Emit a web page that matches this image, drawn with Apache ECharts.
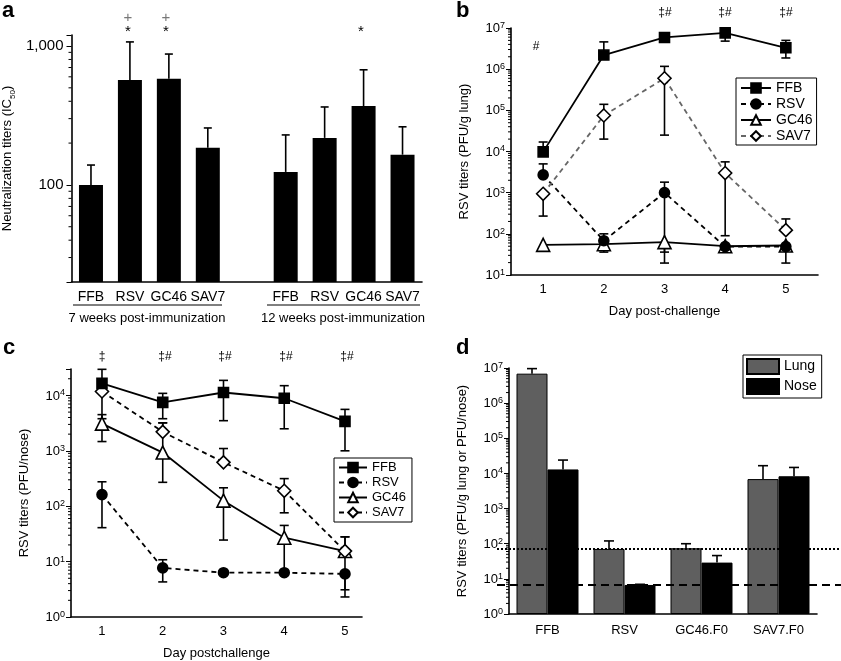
<!DOCTYPE html>
<html>
<head>
<meta charset="utf-8">
<script src="https://cdn.jsdelivr.net/npm/echarts@6/dist/echarts.min.js"></script>
<style>
html, body { margin: 0; padding: 0; background: #fff; }
#main { width: 841px; height: 661px; }
</style>
</head>
<body>
<div id="main"></div>
<script>
// ---- panel a: neutralization titers ----
const aVaccines = ['FFB', 'RSV', 'GC46', 'SAV7'];
const aGroups = ['7 weeks post-immunization', '12 weeks post-immunization'];
const a7wk = [100, 569, 580, 185];
const a7wkUpper = [139, 1070, 875, 257];
const a12wk = [124, 218, 370, 165];
const a12wkUpper = [229, 364, 674, 262];

// ---- panel b: lung titers ----
const days = [1, 2, 3, 4, 5];
const bFFB = [9800, 2200000, 5900000, 7600000, 3300000];
const bFFBLo = [9800, 2200000, 5600000, 4800000, 1870000];
const bFFBHi = [17000, 4600000, 6300000, 9800000, 5000000];
const bRSV = [2700, 68, 1000, 49, 49];
const bRSVLo = [2700, 36, 36, 49, 49];
const bRSVHi = [5000, 100, 1800, 49, 49];
const bGC46 = [54, 56, 63, 50, 52];
const bGC46Lo = [54, 44, 19.5, 50, 19.5];
const bGC46Hi = [54, 56, 63, 50, 52];
const bSAV7 = [940, 75000, 600000, 3000, 123];
const bSAV7Lo = [270, 20000, 25000, 90, 123];
const bSAV7Hi = [940, 140000, 1170000, 5600, 230];

// ---- panel c: nose titers ----
const cFFB = [16500, 7500, 11300, 8900, 3400];
const cFFBLo = [16500, 3800, 3500, 2500, 1000];
const cFFBHi = [29600, 10900, 18700, 15000, 5600];
const cRSV = [162, 7.7, 6.3, 6.3, 6.0];
const cRSVLo = [41, 4.3, 6.3, 6.3, 2.3];
const cRSVHi = [276, 10.8, 6.3, 6.3, 6.0];
const cGC46 = [3100, 930, 126, 27, 15.5];
const cGC46Lo = [1470, 270, 24.5, 6.5, 15.5];
const cGC46Hi = [4500, 3200, 215, 45, 28];
const cSAV7 = [11800, 2200, 620, 190, 15.5];
const cSAV7Lo = [3800, 2200, 620, 76, 3.1];
const cSAV7Hi = [11800, 3200, 1100, 315, 28];

// ---- panel d: lung vs nose ----
const dCats = ['FFB', 'RSV', 'GC46.F0', 'SAV7.F0'];
const dLung = [6900000, 71, 74, 6900];
const dLungHi = [9600000, 120, 100, 16600];
const dNose = [13000, 6.7, 29, 8300];
const dNoseHi = [24000, 7, 46, 14800];
const dLungLimit = 71;
const dNoseLimit = 6.7;

const FONT = 'Liberation Sans, Arial, sans-serif';

function pow10Label(v) {
  const e = Math.log10(v);
  const r = Math.round(e);
  if (Math.abs(e - r) > 1e-6) return '';
  return '{b|10}{s|' + r + '}';
}
const powRich = {
  b: { fontSize: 13, color: '#000', verticalAlign: 'bottom', lineHeight: 14 },
  s: { fontSize: 9, color: '#000', verticalAlign: 'top', lineHeight: 10, padding: [0, 0, 7, 0] }
};

function errRender(offset, cap) {
  return function (params, api) {
    const x = api.value(0), lo = api.value(1), hi = api.value(2), mid = api.value(3);
    const pl = api.coord([x, lo]);
    const ph = api.coord([x, hi]);
    const cx = pl[0] + offset;
    const st = { stroke: '#000', lineWidth: 1.6 };
    const ch = [{ type: 'line', shape: { x1: cx, y1: pl[1], x2: cx, y2: ph[1] }, style: st }];
    if (hi > mid) ch.push({ type: 'line', shape: { x1: cx - cap / 2, y1: ph[1], x2: cx + cap / 2, y2: ph[1] }, style: st });
    if (lo < mid) ch.push({ type: 'line', shape: { x1: cx - cap / 2, y1: pl[1], x2: cx + cap / 2, y2: pl[1] }, style: st });
    return { type: 'group', children: ch };
  };
}

function errSeries(name, xi, yi, xs, mean, lo, hi, offset, cap) {
  return {
    name: name, type: 'custom', xAxisIndex: xi, yAxisIndex: yi, z: 2, silent: true,
    renderItem: errRender(offset || 0, cap || 9),
    data: xs.map((x, i) => [x, lo[i], hi[i], mean[i]])
  };
}

// log-axis minor ticks (2..9 within each decade), drawn through the axis scale
function minorTicks(xi, yi, x0, lo, hi) {
  const vals = [];
  for (let k = Math.floor(Math.log10(lo)); k <= Math.ceil(Math.log10(hi)); k++) {
    for (let m = 2; m <= 9; m++) {
      const v = m * Math.pow(10, k);
      if (v > lo && v < hi) vals.push([x0, v]);
    }
  }
  return {
    type: 'custom', xAxisIndex: xi, yAxisIndex: yi, silent: true, z: 1,
    renderItem: function (params, api) {
      const y = api.coord([api.value(0), api.value(1)])[1];
      const x = params.coordSys.x;
      return { type: 'line', shape: { x1: x - 3, y1: y, x2: x, y2: y }, style: { stroke: '#000', lineWidth: 1 } };
    },
    data: vals
  };
}

// styles for the four vaccine series
const styles = {
  FFB: { symbol: 'rect', symbolSize: 10, lineType: 'solid', fill: '#000' },
  RSV: { symbol: 'circle', symbolSize: 10, lineType: 'dashed', fill: '#000' },
  GC46: { symbol: 'triangle', symbolSize: 13, lineType: 'solid', fill: '#fff' },
  SAV7: { symbol: 'diamond', symbolSize: 13, lineType: 'dashed', fill: '#fff' }
};

function lineSeries(name, xi, yi, vals, lineColor, z) {
  const s = styles[name];
  return {
    name: name, type: 'line', xAxisIndex: xi, yAxisIndex: yi, z: z,
    symbol: s.symbol, symbolSize: s.symbolSize,
    lineStyle: { color: lineColor, width: 1.8, type: s.lineType === 'dashed' ? [5, 4] : 'solid' },
    itemStyle: { color: s.fill, borderColor: '#000', borderWidth: 1.6 },
    data: days.map((d, i) => [d, vals[i]])
  };
}

const aCats = aVaccines.map(v => v + '|7').concat([' |gap'], aVaccines.map(v => v + '|12'));
const aBars = a7wk.concat(['-'], a12wk);
const aUpper = a7wkUpper.concat(['-'], a12wkUpper);
const aIdx = aCats.map((c, i) => i).filter(i => aBars[i] !== '-');

const axisLineStyle = { lineStyle: { color: '#000', width: 1.6 } };
const logAxisBase = {
  axisLine: { show: true, lineStyle: { color: '#000', width: 1.6 } },
  axisTick: { show: true, length: 5, lineStyle: { color: '#000' } },
  splitLine: { show: false }
};

const chart = echarts.init(document.getElementById('main'));
chart.setOption({
  animation: false,
  textStyle: { fontFamily: FONT, color: '#000' },
  grid: [
    { left: 68, top: 35, width: 354, height: 247 },
    { left: 511, top: 28, width: 307, height: 247 },
    { left: 71, top: 369, width: 291, height: 248 },
    { left: 509, top: 368, width: 308, height: 246 },
    { left: 497, top: 368, width: 344, height: 246 }
  ],
  xAxis: [
    {
      gridIndex: 0, type: 'category', data: aCats,
      axisLine: axisLineStyle, axisTick: { show: false },
      axisLabel: { interval: 0, fontSize: 14, color: '#000', margin: 8, formatter: v => v.split('|')[0].trim() }
    },
    {
      gridIndex: 1, type: 'value', min: 0.47, max: 5.53,
      name: 'Day post-challenge', nameLocation: 'middle', nameGap: 30,
      nameTextStyle: { fontSize: 13, color: '#000' },
      axisLine: axisLineStyle, axisTick: { show: false }, splitLine: { show: false },
      axisLabel: { fontSize: 13, color: '#000', margin: 8, formatter: v => Number.isInteger(v) ? String(v) : '' }
    },
    {
      gridIndex: 2, type: 'value', min: 0.49, max: 5.28,
      name: 'Day postchallenge', nameLocation: 'middle', nameGap: 30,
      nameTextStyle: { fontSize: 13, color: '#000' },
      axisLine: axisLineStyle, axisTick: { show: false }, splitLine: { show: false },
      axisLabel: { fontSize: 13, color: '#000', margin: 8, formatter: v => Number.isInteger(v) ? String(v) : '' }
    },
    {
      gridIndex: 3, type: 'category', data: dCats,
      axisLine: axisLineStyle, axisTick: { show: false },
      axisLabel: { interval: 0, fontSize: 13, color: '#000', margin: 10 }
    },
    { gridIndex: 4, type: 'value', min: 0, max: 1, show: false }
  ],
  yAxis: [
    Object.assign({
      gridIndex: 0, type: 'log', min: 20, max: 1200,
      name: 'Neutralization titers (IC{sub|50})', nameLocation: 'middle', nameGap: 55,
      nameTextStyle: { fontSize: 13, color: '#000', rich: { sub: { fontSize: 8, color: '#000', verticalAlign: 'bottom', padding: [10, 0, 0, 0] } } },
      axisLabel: { fontSize: 15, color: '#000', formatter: v => Math.abs(v - 100) < 1e-6 ? '100' : (Math.abs(v - 1000) < 1e-6 ? '1,000' : '') }
    }, logAxisBase),
    Object.assign({
      gridIndex: 1, type: 'log', min: 10, max: 10000000,
      name: 'RSV titers (PFU/g lung)', nameLocation: 'middle', nameGap: 40,
      nameTextStyle: { fontSize: 13, color: '#000' },
      axisLabel: { formatter: pow10Label, rich: powRich, margin: 6 }
    }, logAxisBase),
    Object.assign({
      gridIndex: 2, type: 'log', min: 1, max: 30000,
      name: 'RSV titers (PFU/nose)', nameLocation: 'middle', nameGap: 40,
      nameTextStyle: { fontSize: 13, color: '#000' },
      axisLabel: { formatter: pow10Label, rich: powRich, margin: 6 }
    }, logAxisBase),
    Object.assign({
      gridIndex: 3, type: 'log', min: 1, max: 10000000,
      name: 'RSV titers (PFU/g lung or PFU/nose)', nameLocation: 'middle', nameGap: 40,
      nameTextStyle: { fontSize: 13, color: '#000' },
      axisLabel: { formatter: pow10Label, rich: powRich, margin: 6 }
    }, logAxisBase),
    { gridIndex: 4, type: 'log', min: 1, max: 10000000, show: false }
  ],
  legend: [
    {
      left: 736, top: 78, orient: 'vertical', data: ['FFB', 'RSV', 'GC46', 'SAV7'],
      borderColor: '#000', borderWidth: 1, padding: [3, 4, 2, 4], itemGap: 2,
      itemWidth: 30, itemHeight: 12, selectedMode: false,
      textStyle: { fontSize: 14, color: '#000' }
    },
    {
      left: 334, top: 458, orient: 'vertical',
      data: ['FFB', 'RSV', 'GC46', { name: 'SAV7', lineStyle: { color: '#000' } }],
      borderColor: '#000', borderWidth: 1, padding: [3, 6, 3, 4], itemGap: 2,
      itemWidth: 28, itemHeight: 12, selectedMode: false,
      textStyle: { fontSize: 13, color: '#000' }
    },
    {
      left: 743, top: 355, orient: 'vertical', data: ['Lung', 'Nose'],
      borderColor: '#000', borderWidth: 1, padding: [3, 5, 3, 3], itemGap: 3,
      itemWidth: 32, itemHeight: 15, icon: 'rect', selectedMode: false,
      textStyle: { fontSize: 14, color: '#000' }
    }
  ],
  series: [
    // panel b
    lineSeries('FFB', 1, 1, bFFB, '#000', 5),
    lineSeries('RSV', 1, 1, bRSV, '#000', 4),
    lineSeries('GC46', 1, 1, bGC46, '#000', 3),
    lineSeries('SAV7', 1, 1, bSAV7, '#666', 4),
    errSeries('bErrFFB', 1, 1, days, bFFB, bFFBLo, bFFBHi),
    errSeries('bErrRSV', 1, 1, days, bRSV, bRSVLo, bRSVHi),
    errSeries('bErrGC46', 1, 1, days, bGC46, bGC46Lo, bGC46Hi),
    errSeries('bErrSAV7', 1, 1, days, bSAV7, bSAV7Lo, bSAV7Hi),
    // panel c
    lineSeries('FFB', 2, 2, cFFB, '#000', 5),
    lineSeries('RSV', 2, 2, cRSV, '#000', 4),
    lineSeries('GC46', 2, 2, cGC46, '#000', 3),
    lineSeries('SAV7', 2, 2, cSAV7, '#000', 4),
    errSeries('cErrFFB', 2, 2, days, cFFB, cFFBLo, cFFBHi),
    errSeries('cErrRSV', 2, 2, days, cRSV, cRSVLo, cRSVHi),
    errSeries('cErrGC46', 2, 2, days, cGC46, cGC46Lo, cGC46Hi),
    errSeries('cErrSAV7', 2, 2, days, cSAV7, cSAV7Lo, cSAV7Hi),
    // panel a
    {
      name: 'titer', type: 'bar', xAxisIndex: 0, yAxisIndex: 0, barWidth: 24,
      itemStyle: { color: '#000' }, data: aBars
    },
    {
      name: 'aErr', type: 'custom', xAxisIndex: 0, yAxisIndex: 0, z: 3, silent: true,
      renderItem: errRender(0, 8),
      data: aIdx.map(i => [i, aBars[i], aUpper[i], aBars[i]])
    },
    // panel d
    {
      name: 'Lung', type: 'bar', xAxisIndex: 3, yAxisIndex: 3, barWidth: 31, barGap: '0%',
      itemStyle: { color: '#5f5f5f', borderColor: '#000', borderWidth: 1 }, data: dLung
    },
    {
      name: 'Nose', type: 'bar', xAxisIndex: 3, yAxisIndex: 3, barWidth: 31, barGap: '0%',
      itemStyle: { color: '#000', borderColor: '#000', borderWidth: 1 }, data: dNose
    },
    {
      name: 'dErrLung', type: 'custom', xAxisIndex: 3, yAxisIndex: 3, z: 3, silent: true,
      renderItem: errRender(-15.5, 10),
      data: dCats.map((c, i) => [i, dLung[i], dLungHi[i], dLung[i]])
    },
    {
      name: 'dErrNose', type: 'custom', xAxisIndex: 3, yAxisIndex: 3, z: 3, silent: true,
      renderItem: errRender(15.5, 10),
      data: dCats.map((c, i) => [i, dNose[i], dNoseHi[i], dNose[i]])
    },
    {
      name: 'lungLimit', type: 'line', xAxisIndex: 4, yAxisIndex: 4, symbol: 'none', z: 6, silent: true,
      lineStyle: { color: '#000', width: 2, type: [2, 2] },
      data: [[0, dLungLimit], [1, dLungLimit]]
    },
    {
      name: 'noseLimit', type: 'line', xAxisIndex: 4, yAxisIndex: 4, symbol: 'none', z: 6, silent: true,
      lineStyle: { color: '#000', width: 2, type: [8, 5] },
      data: [[0, dNoseLimit], [1, dNoseLimit]]
    },
    // minor ticks on the log axes
    minorTicks(0, 0, 0, 20, 1200),
    minorTicks(1, 1, 1, 10, 10000000),
    minorTicks(2, 2, 1, 1, 30000),
    minorTicks(3, 3, 0, 1, 10000000)
  ],
  graphic: [
    // panel letters
    { type: 'text', x: 2, y: 0, style: { text: 'a', font: 'bold 22px ' + FONT, fill: '#000', verticalAlign: 'top' } },
    { type: 'text', x: 456, y: 0, style: { text: 'b', font: 'bold 22px ' + FONT, fill: '#000', verticalAlign: 'top' } },
    { type: 'text', x: 3, y: 337, style: { text: 'c', font: 'bold 22px ' + FONT, fill: '#000', verticalAlign: 'top' } },
    { type: 'text', x: 456, y: 337, style: { text: 'd', font: 'bold 22px ' + FONT, fill: '#000', verticalAlign: 'top' } },
    // panel a group labels
    { type: 'line', shape: { x1: 73, y1: 305, x2: 222, y2: 305 }, style: { stroke: '#000', lineWidth: 1 } },
    { type: 'line', shape: { x1: 267, y1: 305, x2: 420, y2: 305 }, style: { stroke: '#000', lineWidth: 1 } },
    { type: 'text', x: 147, y: 318, style: { text: aGroups[0], font: '13px ' + FONT, fill: '#000', align: 'center', verticalAlign: 'middle' } },
    { type: 'text', x: 343, y: 318, style: { text: aGroups[1], font: '13px ' + FONT, fill: '#000', align: 'center', verticalAlign: 'middle' } },
    // panel a significance marks
    { type: 'text', x: 128, y: 18, style: { text: '+', font: '15px ' + FONT, fill: '#777', align: 'center', verticalAlign: 'middle' } },
    { type: 'text', x: 166, y: 18, style: { text: '+', font: '15px ' + FONT, fill: '#777', align: 'center', verticalAlign: 'middle' } },
    { type: 'text', x: 128, y: 32, style: { text: '*', font: '15px ' + FONT, fill: '#000', align: 'center', verticalAlign: 'middle' } },
    { type: 'text', x: 166, y: 32, style: { text: '*', font: '15px ' + FONT, fill: '#000', align: 'center', verticalAlign: 'middle' } },
    { type: 'text', x: 361, y: 32, style: { text: '*', font: '15px ' + FONT, fill: '#000', align: 'center', verticalAlign: 'middle' } },
    // panel b marks
    { type: 'text', x: 536, y: 47, style: { text: '#', font: '12px ' + FONT, fill: '#000', align: 'center', verticalAlign: 'middle' } },
    { type: 'text', x: 665, y: 13, style: { text: '‡#', font: '12px ' + FONT, fill: '#000', align: 'center', verticalAlign: 'middle' } },
    { type: 'text', x: 725, y: 13, style: { text: '‡#', font: '12px ' + FONT, fill: '#000', align: 'center', verticalAlign: 'middle' } },
    { type: 'text', x: 786, y: 13, style: { text: '‡#', font: '12px ' + FONT, fill: '#000', align: 'center', verticalAlign: 'middle' } },
    // panel c marks
    { type: 'text', x: 102, y: 357, style: { text: '‡', font: '12px ' + FONT, fill: '#000', align: 'center', verticalAlign: 'middle' } },
    { type: 'text', x: 165, y: 357, style: { text: '‡#', font: '12px ' + FONT, fill: '#000', align: 'center', verticalAlign: 'middle' } },
    { type: 'text', x: 225, y: 357, style: { text: '‡#', font: '12px ' + FONT, fill: '#000', align: 'center', verticalAlign: 'middle' } },
    { type: 'text', x: 286, y: 357, style: { text: '‡#', font: '12px ' + FONT, fill: '#000', align: 'center', verticalAlign: 'middle' } },
    { type: 'text', x: 347, y: 357, style: { text: '‡#', font: '12px ' + FONT, fill: '#000', align: 'center', verticalAlign: 'middle' } }
  ]
});
</script>
</body>
</html>
